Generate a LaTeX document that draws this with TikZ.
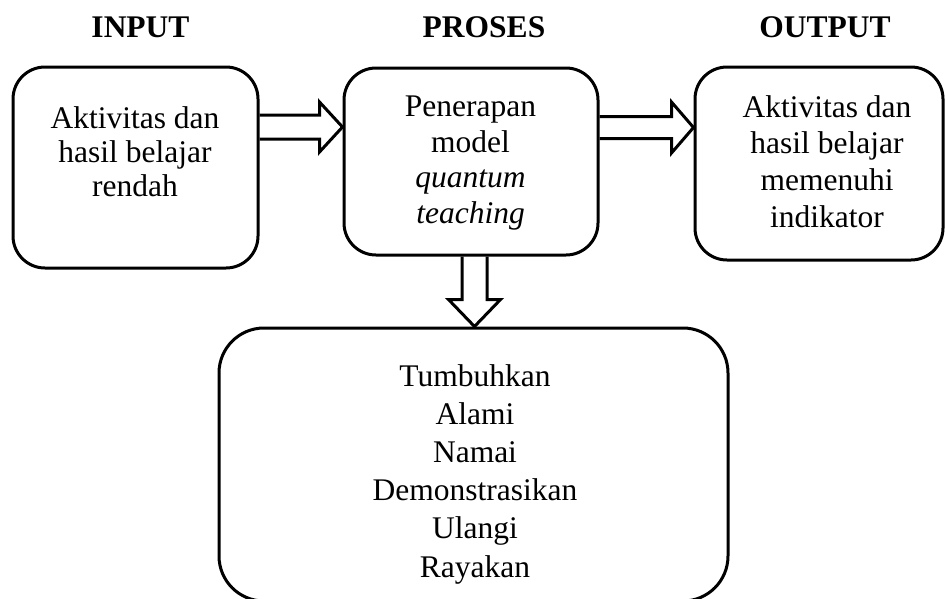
\documentclass[tikz,border=0pt]{standalone}
\usepackage{fontspec}
\setmainfont{Liberation Serif}
\usetikzlibrary{calc}
\begin{document}
\begin{tikzpicture}[x=1pt,y=-1pt,
  box/.style={draw, line width=3pt, rounded corners=32pt, inner sep=0pt},
  txt/.style={inner sep=0pt, align=center, anchor=north},
  head/.style={font=\fontsize{31.5}{36}\selectfont\bfseries, anchor=base, inner sep=0pt},
  barrow/.style={draw, line width=3pt, line join=miter}]
\useasboundingbox (0,0) rectangle (945,598);

% headers
\node[head] (hin)  at (140.5,37) {INPUT};
\node[head] (hpro) at (484,37) {PROSES};
\node[head] (hout) at (825,37) {OUTPUT};

% boxes
\node[box, minimum width=245pt, minimum height=201pt] (in)  at (135.5,167.5) {};
\node[box, minimum width=254pt, minimum height=187pt] (pro) at (471,161.5) {};
\node[box, minimum width=248pt, minimum height=193pt] (out) at (819,163.5) {};
\node[box, rounded corners=45pt, minimum width=509pt, minimum height=273pt] (qt) at (473.5,464.5) {};

% texts
\node[txt, font=\fontsize{31.5}{34}\selectfont] (inT) at (135,106.5)
  {Aktivitas dan\\hasil belajar\\rendah};
\node[txt, font=\fontsize{31.5}{35.5}\selectfont] (proT) at (470.5,96)
  {Penerapan\\model\\\textit{quantum}\\\textit{teaching}};
\node[txt, font=\fontsize{31.5}{36.7}\selectfont] (outT) at (827,95.2)
  {Aktivitas dan\\hasil belajar\\memenuhi\\indikator};
\node[txt, font=\fontsize{31.5}{38.2}\selectfont] (qtT) at (475,364)
  {Tumbuhkan\\Alami\\Namai\\Demonstrasikan\\Ulangi\\Rayakan};

% arrows
\coordinate (a1) at (0,127);
\draw[barrow] ($(in.east |- a1)+(0,-12)$) -- ($(pro.west |- a1)+(-23,-12)$) -- ++(0,-13)
  -- (pro.west |- a1) -- ++(-23,25) -- ++(0,-13) -- ($(in.east |- a1)+(0,12)$);

\coordinate (a2) at (0,127.5);
\draw[barrow] ($(pro.east |- a2)+(0,-11)$) -- ($(out.west |- a2)+(-22,-11)$) -- ++(0,-14.5)
  -- (out.west |- a2) -- ++(-22,25.5) -- ++(0,-14.5) -- ($(pro.east |- a2)+(0,11)$);

\coordinate (a3) at (474.5,0);
\draw[barrow] ($(pro.south -| a3)+(-12.5,0)$) -- ($(qt.north -| a3)+(-12.5,-27)$) -- ++(-13.5,0)
  -- (qt.north -| a3) -- ++(26,-27) -- ++(-13.5,0) -- ($(pro.south -| a3)+(12.5,0)$);
\end{tikzpicture}
\end{document}
